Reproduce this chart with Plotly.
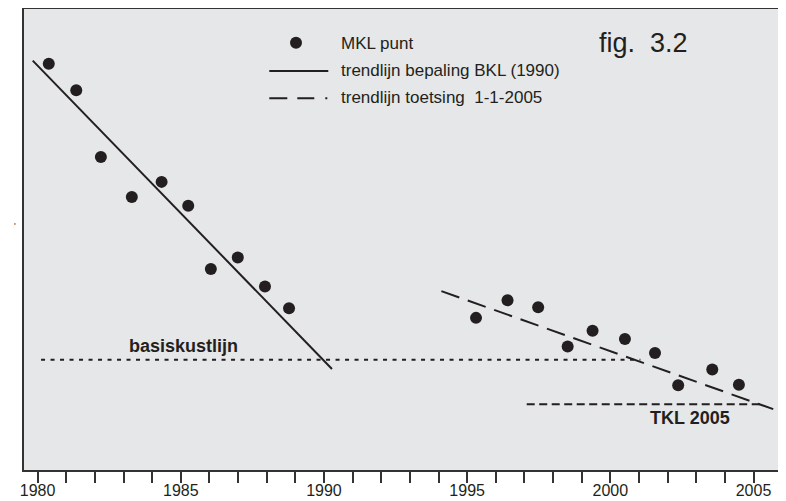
import plotly.graph_objects as go

# MKL measurements (year, position in m relative to reference)
mkl_years_early = [1980.39, 1981.35, 1982.21, 1983.29, 1984.33, 1985.26, 1986.05, 1986.99, 1987.94, 1988.78]
mkl_vals_early = [88.1, 82.4, 67.9, 59.2, 62.5, 57.3, 43.6, 46.1, 39.8, 35.1]
mkl_years_late = [1995.31, 1996.41, 1997.48, 1998.51, 1999.38, 2000.51, 2001.56, 2002.37, 2003.56, 2004.49]
mkl_vals_late = [33.0, 36.8, 35.3, 26.8, 30.2, 28.4, 25.4, 18.4, 21.8, 18.5]

# trend lines (start / end)
bkl_trend_x = [1979.83, 1990.28]
bkl_trend_y = [88.8, 21.9]
toets_trend_x = [1994.10, 2005.69]
toets_trend_y = [38.8, 13.2]

# reference lines
bkl_x = [1980.12, 2001.05]
bkl_y = [23.9, 23.9]
tkl_x = [1997.08, 2005.34]
tkl_y = [14.25, 14.25]

tick_years = list(range(1980, 2006))
tick_text = [str(y) if y % 5 == 0 else "" for y in tick_years]

INK = "#231f20"
FONT = "Liberation Sans, Arial, sans-serif"

fig = go.Figure()

fig.add_trace(go.Scatter(x=bkl_x, y=bkl_y, mode="lines",
                         line=dict(color=INK, width=2, dash="4px,5.5px")))
fig.add_trace(go.Scatter(x=tkl_x, y=tkl_y, mode="lines",
                         line=dict(color=INK, width=2, dash="8px,4.5px")))
fig.add_trace(go.Scatter(x=bkl_trend_x, y=bkl_trend_y, mode="lines",
                         line=dict(color=INK, width=2)))
fig.add_trace(go.Scatter(x=toets_trend_x, y=toets_trend_y, mode="lines",
                         line=dict(color=INK, width=2, dash="19px,9px")))
fig.add_trace(go.Scatter(x=mkl_years_early + mkl_years_late,
                         y=mkl_vals_early + mkl_vals_late, mode="markers",
                         marker=dict(color=INK, size=12)))

# legend drawn by hand, positions in plot-area pixels -> paper coords
def px_x(p):
    return (p - 24) / 759.0

def px_y(p):
    return (470 - p) / 461.0

shapes = [
    dict(type="circle", xref="paper", yref="paper", xsizemode="pixel", ysizemode="pixel",
         xanchor=px_x(296), yanchor=px_y(42.7), x0=-6, x1=6, y0=-6, y1=6,
         fillcolor=INK, line=dict(width=0)),
    dict(type="line", xref="paper", yref="paper", x0=px_x(269.3), x1=px_x(328.3),
         y0=px_y(71), y1=px_y(71), line=dict(color=INK, width=2)),
    dict(type="line", xref="paper", yref="paper", x0=px_x(269.3), x1=px_x(328.8),
         y0=px_y(98.3), y1=px_y(98.3),
         line=dict(color=INK, width=2, dash="18px,10px,17px,11px,2px,40px")),
]

annotations = [
    dict(text="MKL punt", x=px_x(339.3), y=px_y(43.4)),
    dict(text="trendlijn bepaling BKL (1990)", x=px_x(339.3), y=px_y(70.1)),
    dict(text="trendlijn toetsing  1-1-2005", x=px_x(339.3), y=px_y(97.4)),
]
for a in annotations:
    a.update(xref="paper", yref="paper", xanchor="left", yanchor="middle", showarrow=False,
             font=dict(family=FONT, size=17, color=INK))

annotations += [
    dict(text="fig.  3.2", x=px_x(597), y=px_y(43), xref="paper", yref="paper",
         xanchor="left", yanchor="middle", showarrow=False,
         font=dict(family=FONT, size=27, color=INK)),
    dict(text="<b>basiskustlijn</b>", x=1985.08, y=27.0, xref="x", yref="y",
         showarrow=False, font=dict(family=FONT, size=18, color=INK)),
    dict(text="<b>TKL 2005</b>", x=2002.77, y=11.3, xref="x", yref="y",
         showarrow=False, font=dict(family=FONT, size=18, color=INK)),
    dict(text="'", x=px_x(12), y=px_y(226), xref="paper", yref="paper",
         showarrow=False, font=dict(family=FONT, size=9, color=INK)),
]

# page body has an 8px margin, so the figure is 8px smaller and margins shifted
fig.update_layout(
    width=778, height=493,
    margin=dict(l=16, r=3, t=1, b=31),
    paper_bgcolor="white",
    plot_bgcolor="#e6e7e8",
    showlegend=False,
    shapes=shapes,
    annotations=annotations,
    xaxis=dict(range=[1979.525, 2006.03], tickvals=tick_years, ticktext=tick_text,
               ticks="outside", ticklen=11, tickwidth=1.5, tickcolor="#333",
               ticklabelstandoff=-6,
               showline=True, linewidth=2, linecolor="#333", mirror=True,
               showgrid=False, zeroline=False, automargin=False,
               tickfont=dict(family=FONT, size=16, color=INK)),
    xaxis2=dict(overlaying="x", matches="x", anchor="y", side="bottom",
                tickvals=tick_years, ticks="inside", ticklen=14, tickwidth=1.5,
                tickcolor="#333", showticklabels=False, showgrid=False, zeroline=False),
    yaxis=dict(range=[0, 100], showline=True, linewidth=2, linecolor="#333", mirror=True,
               showticklabels=False, ticks="", showgrid=False, zeroline=False,
               automargin=False),
)

fig.write_html("out.html")
